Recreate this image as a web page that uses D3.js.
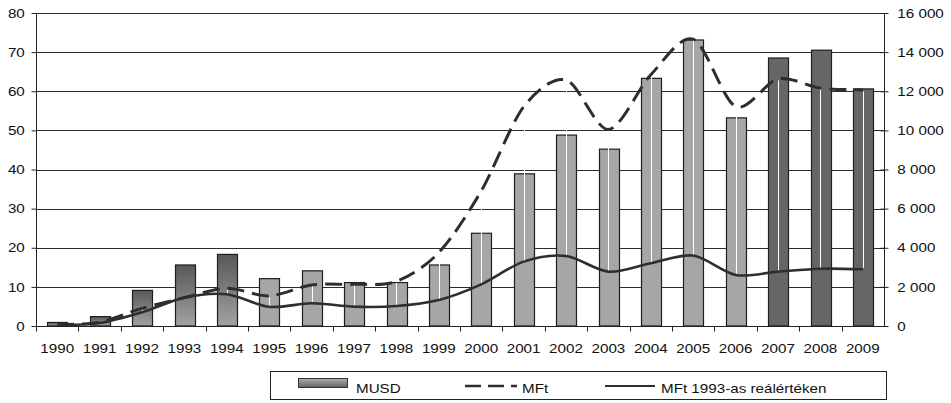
<!DOCTYPE html>
<html>
<head>
<meta charset="utf-8">
<script src="https://cdn.jsdelivr.net/npm/d3@7"></script>
<style>
  html, body { margin: 0; padding: 0; background: #fff; }
  svg text { font-family: "Liberation Sans", Arial, sans-serif; fill: #111; }
</style>
</head>
<body>
<svg id="chart" width="951" height="403"></svg>
<script>
// Years on the category axis
const years = ["1990","1991","1992","1993","1994","1995","1996","1997","1998","1999",
               "2000","2001","2002","2003","2004","2005","2006","2007","2008","2009"];
// Bars, left axis (million USD)
const musd = [0.9, 2.4, 9.1, 15.6, 18.3, 12.1, 14.1, 11.1, 11.1, 15.6,
              23.7, 38.9, 48.8, 45.2, 63.3, 73.1, 53.2, 68.5, 70.5, 60.6];
// Dashed line, right axis (million HUF, nominal)
const mft = [60, 200, 900, 1450, 1930, 1540, 2100, 2130, 2280, 3750,
             6900, 11200, 12580, 10050, 12840, 14660, 11220, 12630, 12160, 12070];
// Solid line, right axis (million HUF at 1993 prices)
const mftReal = [50, 150, 700, 1450, 1620, 980, 1160, 990, 1020, 1330,
                 2130, 3290, 3580, 2780, 3210, 3600, 2610, 2780, 2930, 2900];
// Bar shading groups
const darkYears = ["2007","2008","2009"];
const gradYears = ["1990","1991","1992","1993","1994"];

const leftTicks = [0,10,20,30,40,50,60,70,80];
const rightTicks = [0,2000,4000,6000,8000,10000,12000,14000,16000];
const legendItems = ["MUSD", "MFt", "MFt 1993-as reálértéken"];

const FONT = 13, STRETCH = 1.17;

const svg = d3.select("#chart");
const X0 = 36, X1 = 884, Y0 = 326, Y1 = 13;

const x = d3.scaleBand().domain(years).range([X0, X1]).paddingInner(0.54).paddingOuter(0.27);
const xb = d3.scaleBand().domain(years).range([X0, X1]);
const yL = d3.scaleLinear().domain([0, 80]).range([Y0, Y1]);
const yR = d3.scaleLinear().domain([0, 16000]).range([Y0, Y1]);

const defs = svg.append("defs");
const grad = defs.append("linearGradient").attr("id", "barGrad")
  .attr("x1", 0).attr("y1", 0).attr("x2", 0).attr("y2", 1);
grad.append("stop").attr("offset", "0%").attr("stop-color", "#585858");
grad.append("stop").attr("offset", "100%").attr("stop-color", "#a2a2a2");
const lgrad = defs.append("linearGradient").attr("id", "legGrad")
  .attr("x1", 0).attr("y1", 0).attr("x2", 0).attr("y2", 1);
lgrad.append("stop").attr("offset", "0%").attr("stop-color", "#b0b0b0");
lgrad.append("stop").attr("offset", "100%").attr("stop-color", "#606060");

// Horizontal gridlines
svg.append("g").selectAll("line").data(leftTicks).join("line")
  .attr("x1", X0).attr("x2", X1)
  .attr("y1", d => Math.round(yL(d)) + 0.5).attr("y2", d => Math.round(yL(d)) + 0.5)
  .attr("stroke", "#2b2b2b").attr("stroke-width", 1);

// Bars
svg.append("g").selectAll("rect").data(years).join("rect")
  .attr("x", d => Math.round(x(d)) + 0.5)
  .attr("y", (d, i) => yL(musd[i]))
  .attr("width", Math.round(x.bandwidth()))
  .attr("height", (d, i) => Y0 - yL(musd[i]))
  .attr("fill", d => gradYears.includes(d) ? "url(#barGrad)" : darkYears.includes(d) ? "#666666" : "#a6a6a6")
  .attr("stroke", "#1e1e1e").attr("stroke-width", 1.2);

// Smoothed lines
const center = d => xb(d) + xb.bandwidth() / 2;
const lineGen = vals => d3.line()
  .x(d => center(d))
  .y((d, i) => yR(vals[i]))
  .curve(d3.curveCardinal.tension(0.1))(years);

svg.append("path").attr("d", lineGen(mftReal))
  .attr("fill", "none").attr("stroke", "#2e2e2e").attr("stroke-width", 2.6);
svg.append("path").attr("d", lineGen(mft))
  .attr("fill", "none").attr("stroke", "#2e2e2e").attr("stroke-width", 3)
  .attr("stroke-dasharray", "17,8");

// White high-low lines between the two line series
svg.append("g").selectAll("line").data(years).join("line")
  .attr("x1", d => Math.round(center(d)) + 0.5).attr("x2", d => Math.round(center(d)) + 0.5)
  .attr("y1", (d, i) => yR(mft[i]) + 1.5)
  .attr("y2", (d, i) => yR(mftReal[i]) - 1.3)
  .attr("stroke", "#ffffff").attr("stroke-width", 1)
  .attr("display", (d, i) => (yR(mftReal[i]) - yR(mft[i]) > 3) ? null : "none");

// Left axis
const axL = svg.append("g").attr("transform", `translate(${X0 + 0.5},0)`)
  .call(d3.axisLeft(yL).tickValues(leftTicks).tickSize(5).tickPadding(5).tickFormat(d3.format("d")));
// Right axis
const spaceFmt = d => d3.format(",")(d).replace(/,/g, "\u00a0");
const axR = svg.append("g").attr("transform", `translate(${X1 + 0.5},0)`)
  .call(d3.axisRight(yR).tickValues(rightTicks).tickSize(0).tickPadding(11).tickFormat(spaceFmt));
axR.selectAll(".tick").append("line").attr("x1", -4).attr("x2", 4).attr("stroke", "#222");
// Bottom axis
const axB = svg.append("g").attr("transform", `translate(0,${Y0 + 0.5})`)
  .call(d3.axisBottom(xb).tickSize(0).tickPadding(17));
axB.append("g").selectAll("line").data(years.slice(1)).join("line")
  .attr("x1", d => Math.round(xb(d)) + 0.5).attr("x2", d => Math.round(xb(d)) + 0.5)
  .attr("y1", 0).attr("y2", 5).attr("stroke", "#222");
axB.append("line").attr("x1", X0 + 0.5).attr("x2", X0 + 0.5).attr("y1", 0).attr("y2", 5).attr("stroke", "#222");

[axL, axR, axB].forEach(a => {
  a.selectAll(".domain").attr("stroke", "#222");
  a.selectAll(".tick line").attr("stroke", "#222");
  a.selectAll("text").attr("font-size", FONT).attr("fill", "#111")
    .attr("font-family", "'Liberation Sans', Arial, sans-serif")
    .attr("transform", `scale(${STRETCH},1)`);
});
axB.select(".domain").attr("d", `M${X0},0H${X1}`);
axL.select(".domain").attr("d", `M0,${Y1}V${Y0 + 5}`);
axR.select(".domain").attr("d", `M0,${Y1}V${Y0}`);

// Legend
const leg = svg.append("g");
leg.append("rect").attr("x", 270.5).attr("y", 371.5).attr("width", 616).attr("height", 28)
  .attr("fill", "#fff").attr("stroke", "#222").attr("stroke-width", 1);
const ly = 386;
leg.append("rect").attr("x", 298.5).attr("y", 378.5).attr("width", 49).attr("height", 9)
  .attr("fill", "url(#legGrad)").attr("stroke", "#333");
leg.append("line").attr("x1", 465).attr("x2", 517).attr("y1", ly).attr("y2", ly)
  .attr("stroke", "#2e2e2e").attr("stroke-width", 2.5).attr("stroke-dasharray", "16,7");
leg.append("line").attr("x1", 605).attr("x2", 655).attr("y1", ly).attr("y2", ly)
  .attr("stroke", "#2e2e2e").attr("stroke-width", 2.2);
const lx = [356, 522, 661];
leg.selectAll("text").data(legendItems).join("text")
  .attr("transform", (d, i) => `translate(${lx[i]},393) scale(${STRETCH},1)`)
  .attr("font-size", FONT).text(d => d);
</script>
</body>
</html>
